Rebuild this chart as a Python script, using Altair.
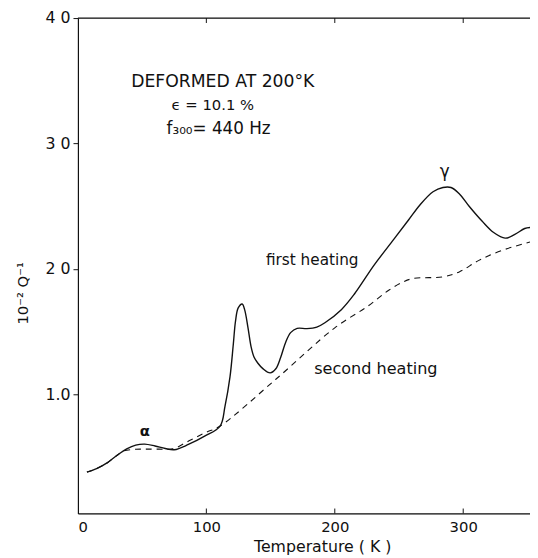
import altair as alt
import pandas as pd

# ---- data ----
solid_T = [7, 15, 23, 30, 38, 45, 52, 60, 68, 75, 86, 99, 110.7, 114.5, 118.4, 121,
           122.7, 124.8, 127.9, 129.8, 132.4, 134.8, 137, 140, 144, 149.7, 154.1, 157.9,
           161.7, 165.6, 170.7, 178.3, 186, 192.3, 205.1, 215.3, 230.6, 245.9, 257.4,
           266.3, 276.5, 284.2, 290.5, 296.9, 304.6, 314.8, 323.7, 332.6, 340.2, 347.9, 352]
solid_Q = [0.38, 0.41, 0.455, 0.51, 0.565, 0.595, 0.603, 0.588, 0.568, 0.558, 0.6,
           0.668, 0.747, 0.904, 1.139, 1.401, 1.584, 1.689, 1.72, 1.675, 1.532, 1.38,
           1.3, 1.25, 1.205, 1.171, 1.204, 1.296, 1.414, 1.492, 1.526, 1.524, 1.536,
           1.571, 1.675, 1.80, 2.03, 2.235, 2.39, 2.51, 2.615, 2.649, 2.649, 2.60,
           2.50, 2.38, 2.29, 2.245, 2.275, 2.322, 2.33]

dashed_T = [7, 15, 23, 30, 35.5, 45, 53.3, 63, 73.8, 86.5, 99.2, 110.7, 154.1, 200,
            225.5, 242, 253.6, 261.2, 284.2, 296.9, 312.2, 330.1, 352]
dashed_Q = [0.38, 0.41, 0.455, 0.51, 0.548, 0.562, 0.563, 0.563, 0.565, 0.629, 0.694,
            0.747, 1.12, 1.53, 1.701, 1.83, 1.898, 1.924, 1.937, 1.976, 2.068, 2.147,
            2.215]

x_ticks = [0, 100, 200, 300]
x_inner_ticks = [100, 200, 300]
y_ticks = [1, 2, 3, 4]

solid_df = pd.DataFrame({"T": solid_T, "Q": solid_Q})
dashed_df = pd.DataFrame({"T": dashed_T, "Q": dashed_Q})
ticks_df = pd.DataFrame({"T": x_inner_ticks})
one_row = pd.DataFrame({"k": [0]})

FONT = "DejaVu Sans"
INK = "#111111"
W, H = 459, 503

xscale = alt.Scale(domain=[0, 352], nice=False, zero=False)
yscale = alt.Scale(domain=[0.05, 4.0], nice=False, zero=False)

x_axis = alt.Axis(values=x_ticks, ticks=False, grid=False, domainColor=INK,
                  domainWidth=1.2, labelFont=FONT, labelFontSize=15, labelColor=INK,
                  labelPadding=6, title="Temperature ( K )", titleFont=FONT,
                  titleFontSize=16, titleFontWeight="normal", titleColor=INK,
                  titleX=248, titleY=39, titleBaseline="alphabetic")
y_axis = alt.Axis(values=y_ticks, grid=False, domainColor=INK, domainWidth=1.2,
                  tickColor=INK, tickSize=5,
                  labelExpr="datum.value == 1 ? '1.0' : format(datum.value, 'd') + ' 0'",
                  labelFont=FONT, labelFontSize=16, labelColor=INK, labelPadding=3,
                  title="10⁻² Q⁻¹", titleFont=FONT, titleFontSize=15,
                  titleFontWeight="normal", titleColor=INK, titleX=-56, titleY=279,
                  titleAlign="center", titleBaseline="middle")

solid = alt.Chart(solid_df).mark_line(color=INK, strokeWidth=1.4, interpolate="catmull-rom").encode(
    x=alt.X("T:Q", scale=xscale, axis=x_axis),
    y=alt.Y("Q:Q", scale=yscale, axis=y_axis),
)

dashed = alt.Chart(dashed_df).mark_line(color=INK, strokeWidth=1.1, strokeDash=[6, 5],
                                        interpolate="catmull-rom").encode(
    x=alt.X("T:Q", scale=xscale),
    y=alt.Y("Q:Q", scale=yscale),
)

bottom_ticks = alt.Chart(ticks_df).mark_rule(color=INK, strokeWidth=1).encode(
    x=alt.X("T:Q", scale=xscale), y=alt.value(H), y2=alt.value(H - 5))
top_ticks = alt.Chart(ticks_df).mark_rule(color=INK, strokeWidth=1).encode(
    x=alt.X("T:Q", scale=xscale), y=alt.value(0), y2=alt.value(5))
top_border = alt.Chart(one_row).mark_rule(color=INK, strokeWidth=1.2).encode(
    x=alt.value(0), x2=alt.value(W), y=alt.value(0))


def label(text, tx, qy, size, align="center", weight="normal"):
    return alt.Chart(one_row).mark_text(
        text=text, font=FONT, fontSize=size, color=INK, align=align,
        baseline="middle", fontWeight=weight
    ).encode(x=alt.datum(tx, scale=xscale), y=alt.datum(qy, scale=yscale))


notes = [
    label("DEFORMED AT 200°K", 112.8, 3.49, 17.5),
    label("ϵ = 10.1 %", 105, 3.31, 15),
    label("f₃₀₀= 440 Hz", 109.5, 3.112, 17),
    label("α", 52.1, 0.71, 15, weight="bold"),
    label("γ", 285.5, 2.775, 17),
    label("first heating", 146.4, 2.068, 15.5, align="left"),
    label("second heating", 184, 1.204, 16.3, align="left"),
]

chart = alt.layer(solid, dashed, bottom_ticks, top_ticks, top_border, *notes).properties(
    width=W, height=H,
    autosize=alt.AutoSizeParams(type="none"),
    padding={"left": 71, "top": 6, "right": 0, "bottom": 41},
).configure_view(stroke=None).configure(background="white")

chart.save("out.html", embed_options={"renderer": "svg", "actions": False})
